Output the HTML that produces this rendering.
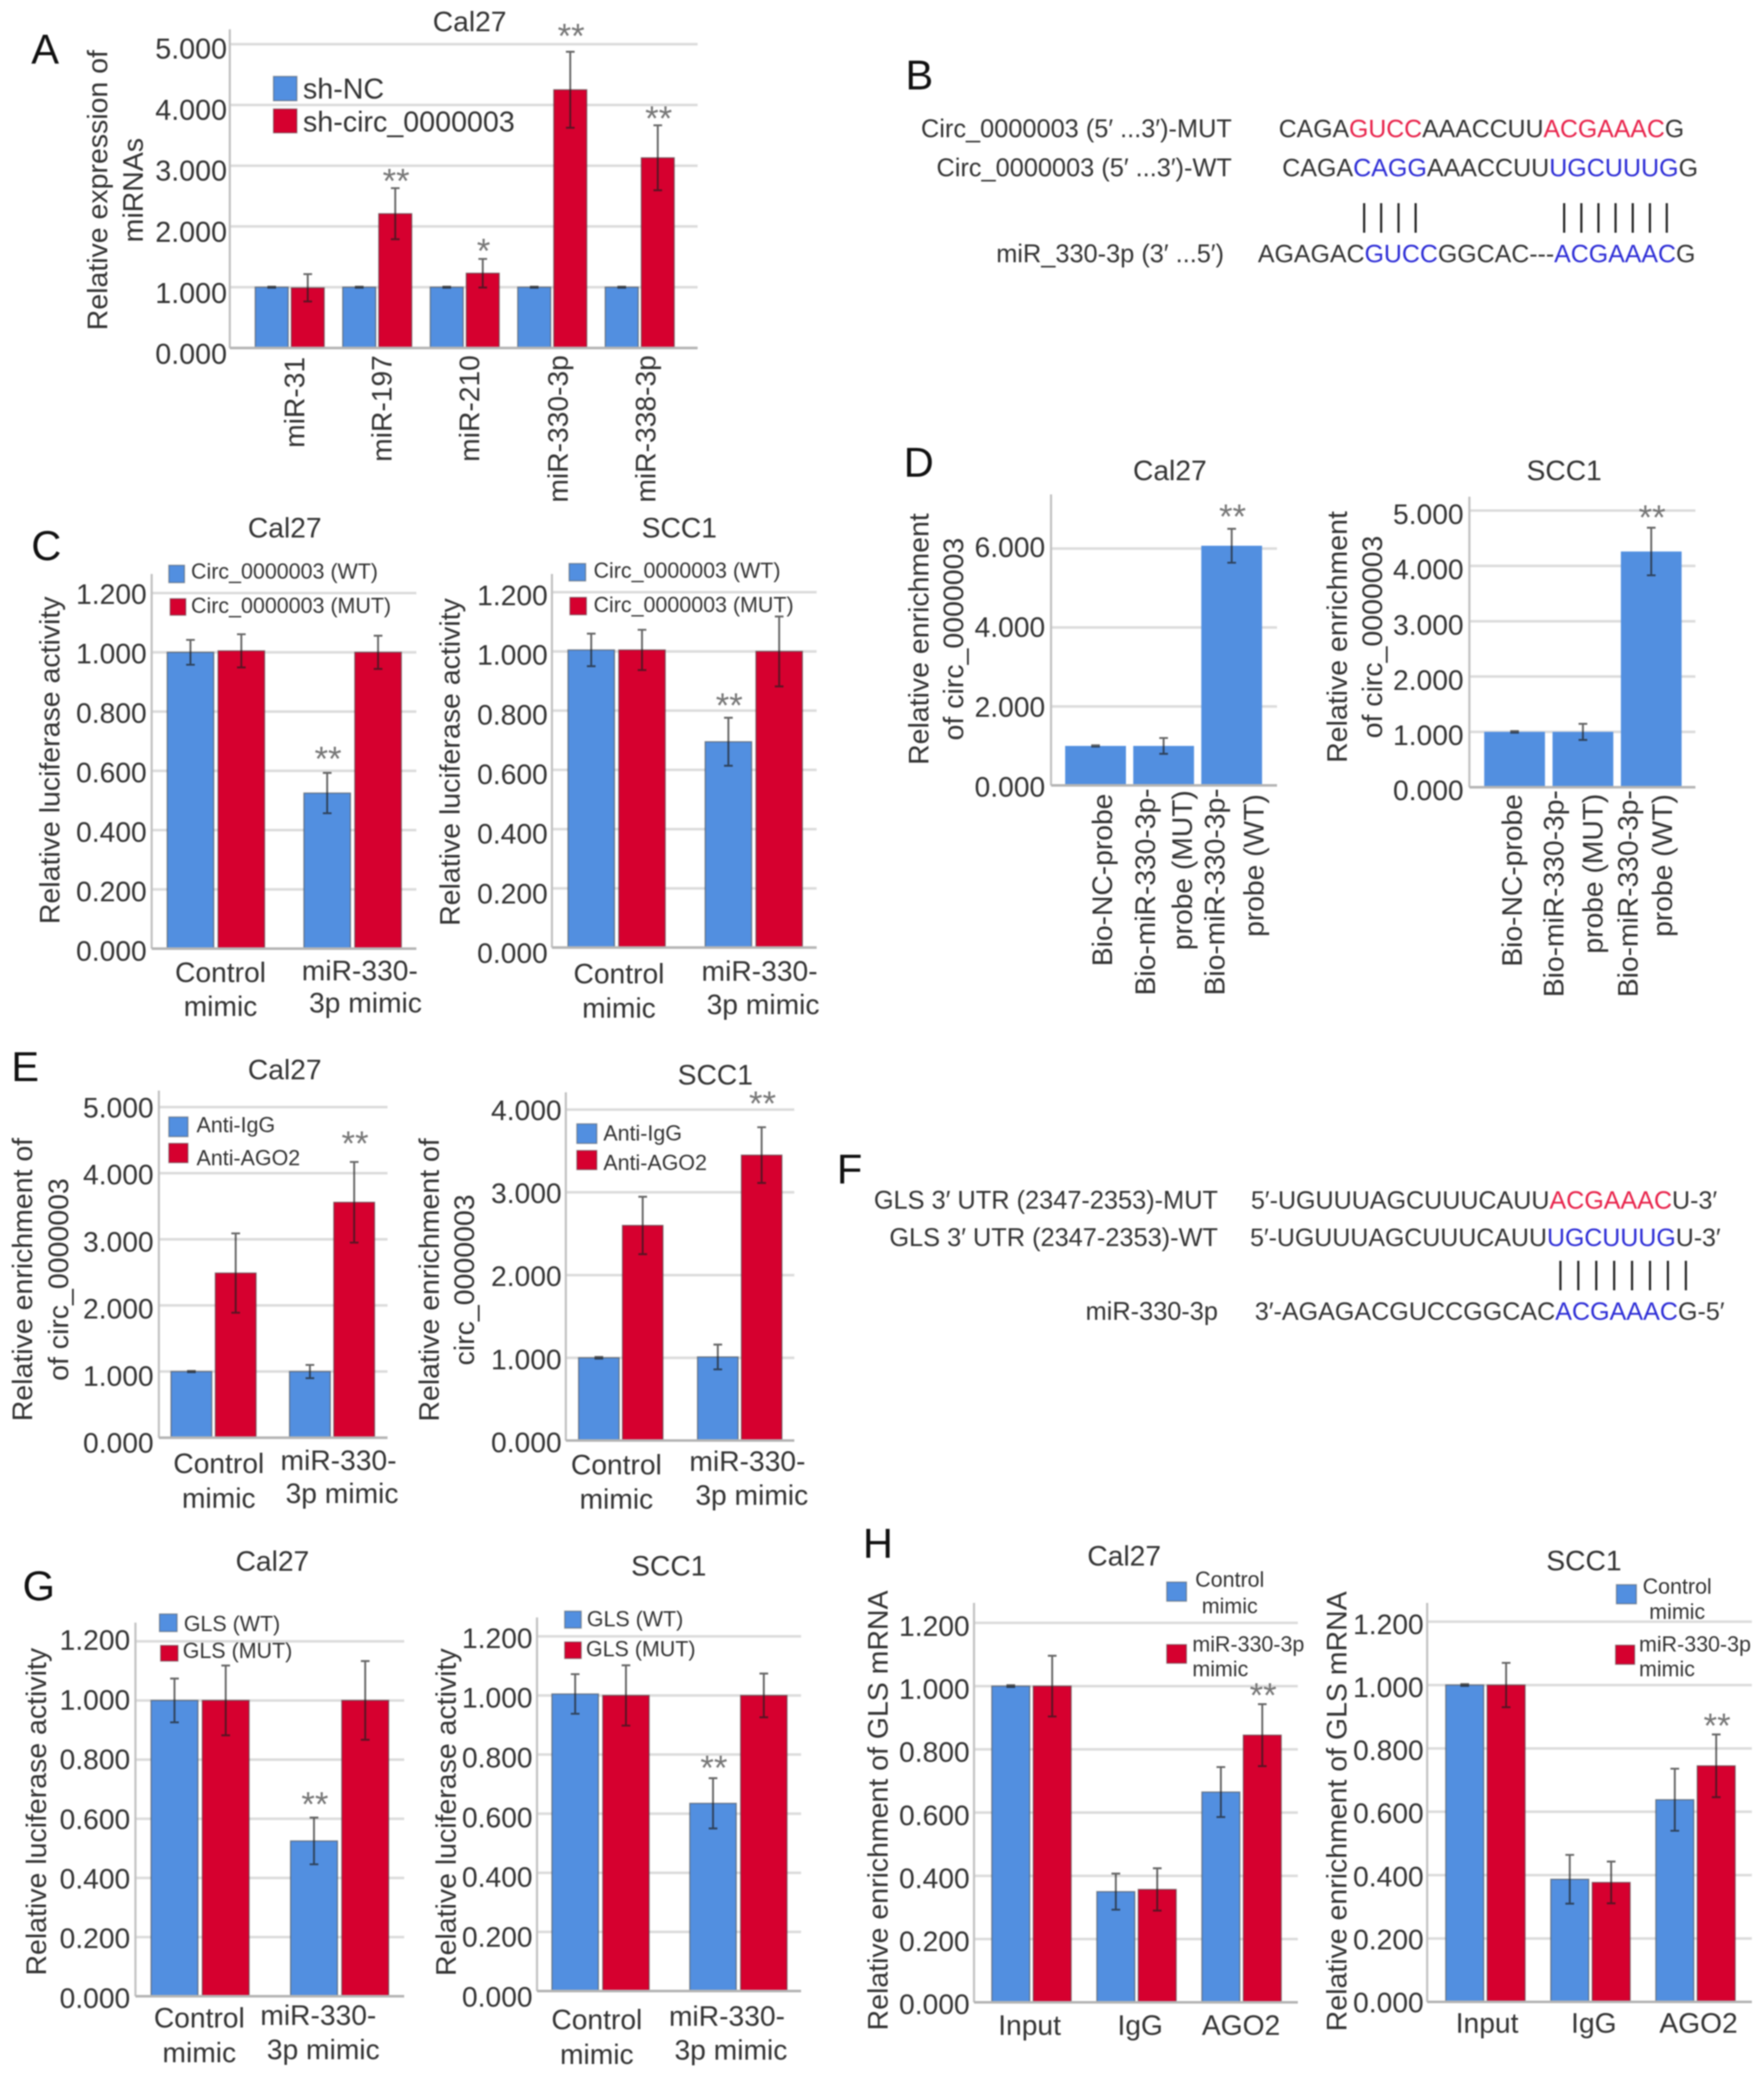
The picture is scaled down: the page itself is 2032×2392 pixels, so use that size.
<!DOCTYPE html>
<html lang="en">
<head>
<meta charset="utf-8">
<title>circ_0000003 miR-330-3p GLS figure</title>
<style>
html,body{margin:0;padding:0;background:#fff;width:2032px;height:2392px;overflow:hidden}
svg{display:block;filter:blur(0.7px)}
text{font-family:"Liberation Sans",Arial,sans-serif;fill:#333}
.letter{font-size:48px;fill:#111}
.seq{font-size:28.5px;dominant-baseline:central}
.seqlabel{font-size:29.2px;dominant-baseline:central}
.red{fill:#e8224a}
.blue{fill:#2c2cd6}
.pipe{stroke:#222;stroke-width:2.5}
</style>
</head>
<body>
<svg id="figure" xmlns="http://www.w3.org/2000/svg" width="2032" height="2392" viewBox="0 0 2032 2392">
<rect x="0" y="0" width="2032" height="2392" fill="#fff"/>

<text class="letter" x="36" y="73">A</text>
<text class="letter" x="1043" y="103">B</text>
<text class="letter" x="36" y="645">C</text>
<text class="letter" x="1041" y="549">D</text>
<text class="letter" x="13" y="1245">E</text>
<text class="letter" x="964" y="1363">F</text>
<text class="letter" x="26" y="1843">G</text>
<text class="letter" x="994" y="1794">H</text>

<g>
<text class="seqlabel" x="1419" y="149" text-anchor="end">Circ_0000003 (5′ ...3′)-MUT</text>
<text class="seq" x="1473" y="149" textLength="467" lengthAdjust="spacingAndGlyphs">CAGA<tspan class="red">GUCC</tspan>AAACCUU<tspan class="red">ACGAAAC</tspan>G</text>
<text class="seqlabel" x="1419" y="194" text-anchor="end">Circ_0000003 (5′ ...3′)-WT</text>
<text class="seq" x="1477" y="194" textLength="479" lengthAdjust="spacingAndGlyphs">CAGA<tspan class="blue">CAGG</tspan>AAACCUU<tspan class="blue">UGCUUUG</tspan>G</text>
<g>
<line class="pipe" x1="1571.4" x2="1571.4" y1="234" y2="268"/>
<line class="pipe" x1="1591" x2="1591" y1="234" y2="268"/>
<line class="pipe" x1="1611" x2="1611" y1="234" y2="268"/>
<line class="pipe" x1="1630.7" x2="1630.7" y1="234" y2="268"/>
<line class="pipe" x1="1801.8" x2="1801.8" y1="234" y2="268"/>
<line class="pipe" x1="1821.6" x2="1821.6" y1="234" y2="268"/>
<line class="pipe" x1="1841.3" x2="1841.3" y1="234" y2="268"/>
<line class="pipe" x1="1861" x2="1861" y1="234" y2="268"/>
<line class="pipe" x1="1880.8" x2="1880.8" y1="234" y2="268"/>
<line class="pipe" x1="1900.6" x2="1900.6" y1="234" y2="268"/>
<line class="pipe" x1="1920" x2="1920" y1="234" y2="268"/>
</g>
<text class="seqlabel" x="1410" y="293" text-anchor="end">miR_330-3p (3′ ...5′)</text>
<text class="seq" x="1449" y="293" textLength="504" lengthAdjust="spacingAndGlyphs">AGAGAC<tspan class="blue">GUCC</tspan>GGCAC---<tspan class="blue">ACGAAAC</tspan>G</text>
</g>

<g>
<text class="seqlabel" x="1403" y="1383" text-anchor="end">GLS 3′ UTR (2347-2353)-MUT</text>
<text class="seq" x="1441" y="1383" textLength="537" lengthAdjust="spacingAndGlyphs">5′-UGUUUAGCUUUCAUU<tspan class="red">ACGAAAC</tspan>U-3′</text>
<text class="seqlabel" x="1403" y="1426" text-anchor="end">GLS 3′ UTR (2347-2353)-WT</text>
<text class="seq" x="1440" y="1426" textLength="542" lengthAdjust="spacingAndGlyphs">5′-UGUUUAGCUUUCAUU<tspan class="blue">UGCUUUG</tspan>U-3′</text>
<g>
<line class="pipe" x1="1797.5" x2="1797.5" y1="1452" y2="1486"/>
<line class="pipe" x1="1818.1" x2="1818.1" y1="1452" y2="1486"/>
<line class="pipe" x1="1838.8" x2="1838.8" y1="1452" y2="1486"/>
<line class="pipe" x1="1859.4" x2="1859.4" y1="1452" y2="1486"/>
<line class="pipe" x1="1880" x2="1880" y1="1452" y2="1486"/>
<line class="pipe" x1="1900.7" x2="1900.7" y1="1452" y2="1486"/>
<line class="pipe" x1="1921.3" x2="1921.3" y1="1452" y2="1486"/>
<line class="pipe" x1="1942" x2="1942" y1="1452" y2="1486"/>
</g>
<text class="seqlabel" x="1403" y="1511" text-anchor="end">miR-330-3p</text>
<text class="seq" x="1445.5" y="1511" textLength="541" lengthAdjust="spacingAndGlyphs">3′-AGAGACGUCCGGCAC<tspan class="blue">ACGAAAC</tspan>G-5′</text>
</g>
</svg>

<script>
/* ---------- data ---------- */
const ticksFive = ['0.000','1.000','2.000','3.000','4.000','5.000'];
const ticksFour = ['0.000','1.000','2.000','3.000','4.000'];
const ticksSixByTwo = ['0.000','2.000','4.000','6.000'];
const ticksRatio = ['0.000','0.200','0.400','0.600','0.800','1.000','1.200'];
const mimicCategories = [['Control','mimic'],['miR-330-','3p mimic']];
const probeCategories = [['Bio-NC-probe'],['Bio-miR-330-3p-','probe (MUT)'],['Bio-miR-330-3p-','probe (WT)']];
const ripCategories = [['Input'],['IgG'],['AGO2']];

/* Panel A */
const aCategories = [['miR-31'],['miR-197'],['miR-210'],['miR-330-3p'],['miR-338-3p']];
const aSeriesNames = [['sh-NC'],['sh-circ_0000003']];
const aBlue = [1.0,1.0,1.0,1.0,1.0];
const aRed = [0.99,2.21,1.23,4.25,3.13];
const aBlueErr = [0.01,0.01,0.01,0.01,0.01];
const aRedErr = [0.225,0.42,0.235,0.625,0.535];
const aBlueStars = ['','','','',''];
const aRedStars = ['','**','*','**','**'];

/* Panel C */
const cSeriesNames = [['Circ_0000003 (WT)'],['Circ_0000003 (MUT)']];
const c1Blue = [1.0,0.525];
const c1Red = [1.005,1.0];
const c1BlueErr = [0.042,0.068];
const c1RedErr = [0.056,0.056];
const c1BlueStars = ['','**'];
const c1RedStars = ['',''];
const c2Blue = [1.005,0.695];
const c2Red = [1.005,1.0];
const c2BlueErr = [0.055,0.081];
const c2RedErr = [0.068,0.118];
const c2BlueStars = ['','**'];
const c2RedStars = ['',''];

/* Panel D */
const dSeriesNames = [['Relative enrichment']];
const d1Blue = [1.0,1.0,6.07];
const d1BlueErr = [0.015,0.2,0.43];
const d1Stars = ['','','**'];
const d2Blue = [1.0,1.0,4.26];
const d2BlueErr = [0.015,0.145,0.43];
const d2Stars = ['','','**'];

/* Panel E */
const eSeriesNames = [['Anti-IgG'],['Anti-AGO2']];
const e1Blue = [1.0,1.0];
const e1Red = [2.49,3.56];
const e1BlueErr = [0.01,0.1];
const e1RedErr = [0.6,0.61];
const e1BlueStars = ['',''];
const e1RedStars = ['','**'];
const e2Blue = [1.0,1.01];
const e2Red = [2.6,3.45];
const e2BlueErr = [0.01,0.15];
const e2RedErr = [0.347,0.337];
const e2BlueStars = ['',''];
const e2RedStars = ['','**'];

/* Panel G */
const gSeriesNames = [['GLS (WT)'],['GLS (MUT)']];
const g1Blue = [1.0,0.525];
const g1Red = [1.0,1.0];
const g1BlueErr = [0.074,0.079];
const g1RedErr = [0.118,0.133];
const g1BlueStars = ['','**'];
const g1RedStars = ['',''];
const g2Blue = [1.005,0.635];
const g2Red = [1.0,1.0];
const g2BlueErr = [0.067,0.085];
const g2RedErr = [0.102,0.074];
const g2BlueStars = ['','**'];
const g2RedStars = ['',''];

/* Panel H */
const hSeriesNames = [['Control','mimic'],['miR-330-3p','mimic']];
const h1Blue = [1.0,0.35,0.665];
const h1Red = [1.0,0.357,0.845];
const h1BlueErr = [0.003,0.057,0.079];
const h1RedErr = [0.096,0.067,0.098];
const h1BlueStars = ['','',''];
const h1RedStars = ['','','**'];
const h2Blue = [1.0,0.387,0.638];
const h2Red = [1.0,0.377,0.745];
const h2BlueErr = [0.003,0.077,0.098];
const h2RedErr = [0.07,0.066,0.099];
const h2BlueStars = ['','',''];
const h2RedStars = ['','','**'];

/* ---------- drawing ---------- */
const SVGNS = 'http://www.w3.org/2000/svg';
const BLUE = '#528fe0';
const RED = '#d6002f';
const figure = document.getElementById('figure');

function mk(tag, attrs, parent, content) {
  const node = document.createElementNS(SVGNS, tag);
  for (const k in attrs) node.setAttribute(k, attrs[k]);
  if (content !== undefined) node.textContent = content;
  parent.appendChild(node);
  return node;
}

function renderChart(L, categories, ticks, seriesNames, series) {
  const chart = mk('g', {}, figure);
  
  

  const maxTick = parseFloat(ticks[ticks.length - 1]);
  const yScale = function (v) { return L.base - v * (L.base - L.top) / maxTick; };
  const tickFont = L.tickFont || 32.5;

  ticks.forEach(function (label, i) {
    const v = parseFloat(label);
    const py = yScale(v);
    if (i > 0) {
      const grid = mk('line', {x1: L.x0, x2: L.x1, y1: py, y2: py, stroke: '#dcdcdc', 'stroke-width': 3}, chart);
      
      
    }
    const frac = i / (ticks.length - 1);
    const off = L.labelOff[0] + (L.labelOff[1] - L.labelOff[0]) * frac;
    const tick = mk('text', {x: L.tickRight, y: py + off, 'text-anchor': 'end', 'dominant-baseline': 'central', 'font-size': tickFont}, chart, label);
    
    
  });

  const yAxis = mk('line', {x1: L.x0, x2: L.x0, y1: L.axisTop, y2: L.base, stroke: '#c2c2c2', 'stroke-width': 2.5}, chart);
  
  

  series.forEach(function (s, si) {
    s.values.forEach(function (v, gi) {
      const bx = L.start + gi * L.pitch + si * (L.barW + L.gap);
      const top = yScale(v);
      const barAttrs = {x: bx, y: top, width: L.barW, height: L.base - top, fill: s.color};
      if (!L.plain) {
        barAttrs.stroke = 'rgba(70,70,70,0.55)';
        barAttrs['stroke-width'] = 1.5;
      }
      const bar = mk('rect', barAttrs, chart);
      
      
    });
  });

  const baseLine = mk('line', {x1: L.x0, x2: L.x1, y1: L.base, y2: L.base, stroke: '#b4b4b4', 'stroke-width': 3}, chart);
  
  

  series.forEach(function (s, si) {
    s.values.forEach(function (v, gi) {
      const cx = L.start + gi * L.pitch + si * (L.barW + L.gap) + L.barW / 2;
      const yHi = yScale(v + s.errors[gi]);
      const yLo = yScale(v - s.errors[gi]);
      const eb = mk('path', {
        d: 'M' + (cx - 5) + ' ' + yHi + 'H' + (cx + 5) + 'M' + cx + ' ' + yHi + 'V' + yLo + 'M' + (cx - 5) + ' ' + yLo + 'H' + (cx + 5),
        fill: 'none', stroke: 'rgba(30,30,30,0.68)', 'stroke-width': 2.2
      }, chart);
      
      
      if (s.stars[gi]) {
        const gap = Array.isArray(L.starGap) ? L.starGap[gi] : L.starGap;
        const star = mk('text', {x: cx + 1, y: yHi - gap + 19.5, 'text-anchor': 'middle', 'font-size': 40, style: 'fill:#777'}, chart, s.stars[gi]);
        
        
      }
    });
  });

  const title = mk('text', {x: L.title[0], y: L.title[1], 'text-anchor': 'middle', 'dominant-baseline': 'central', 'font-size': 32.5}, chart, L.titleText);
  
  

  L.yLabel.forEach(function (line) {
    const t = mk('text', {transform: 'translate(' + line[1] + ' ' + L.yLabelCy + ') rotate(-90)', 'text-anchor': 'middle', 'dominant-baseline': 'central', 'font-size': 32.8}, chart, line[0]);
    
    
  });

  categories.forEach(function (lines, ci) {
    lines.forEach(function (txt, li) {
      const pos = L.xLabelAt[ci][li];
      const attrs = {'dominant-baseline': 'central', 'font-size': 32.5};
      if (L.rotated) {
        attrs.transform = 'translate(' + pos[0] + ' ' + pos[1] + ') rotate(-90)';
        attrs['text-anchor'] = 'end';
      } else {
        attrs.x = pos[0];
        attrs.y = pos[1];
        attrs['text-anchor'] = 'middle';
      }
      const t = mk('text', attrs, chart, txt);
      
      
    });
  });

  if (L.legend) {
    L.legend.forEach(function (entry, i) {
      const g = mk('g', {}, chart);
      
      
      const sw = mk('rect', {x: entry.box[0], y: entry.box[1], width: entry.box[2], height: entry.box[3], fill: series[i].color, stroke: 'rgba(70,70,70,0.45)', 'stroke-width': 1.5}, g);
      
      
      seriesNames[i].forEach(function (txt, li) {
        const p = entry.text[li];
        const t = mk('text', {x: p[0], y: p[1], 'text-anchor': p[2] || 'start', 'dominant-baseline': 'central', 'font-size': L.legendFont || 24.7}, g, txt);
        
        
      });
    });
  }
}

/* Panel A */
renderChart({
  name: 'chart-a-cal27', titleText: 'Cal27', title: [541, 25],
  x0: 264.7, x1: 803.6, base: 400.7, top: 50.9, axisTop: 33.7,
  start: 294, barW: 38, gap: 3.5, pitch: 100.8,
  tickRight: 261.5, tickFont: 33, labelOff: [7, 5], starGap: [0, 14, 15, 24, 14],
  yLabel: [['Relative expression of', 112], ['miRNAs', 153]], yLabelCy: 219,
  rotated: true,
  xLabelAt: [[[339.5, 411]], [[440, 409]], [[541, 409]], [[643, 409]], [[744, 409]]],
  legendFont: 33,
  legend: [
    {box: [315, 88, 27, 28], text: [[349, 102]]},
    {box: [315, 125.5, 27, 27.5], text: [[349, 140]]}
  ]
}, aCategories, ticksFive, aSeriesNames, [
  {color: BLUE, values: aBlue, errors: aBlueErr, stars: aBlueStars},
  {color: RED, values: aRed, errors: aRedErr, stars: aRedStars}
]);

/* Panel C */
renderChart({
  name: 'chart-c-cal27', titleText: 'Cal27', title: [328, 608],
  x0: 174.7, x1: 479.6, base: 1092.5, top: 683, axisTop: 661,
  start: 192.6, barW: 53.6, gap: 5, pitch: 157.5,
  tickRight: 169, labelOff: [3, 1.6], starGap: 22,
  yLabel: [['Relative luciferase activity', 57]], yLabelCy: 875.6,
  xLabelAt: [[[254, 1120], [254, 1159]], [[414.5, 1118], [421, 1155]]],
  legend: [
    {box: [194.5, 651, 18, 20], text: [[220, 659]]},
    {box: [196, 689.5, 18, 19], text: [[220, 698.6]]}
  ]
}, mimicCategories, ticksRatio, cSeriesNames, [
  {color: BLUE, values: c1Blue, errors: c1BlueErr, stars: c1BlueStars},
  {color: RED, values: c1Red, errors: c1RedErr, stars: c1RedStars}
]);

renderChart({
  name: 'chart-c-scc1', titleText: 'SCC1', title: [782.5, 608],
  x0: 635.8, x1: 940.7, base: 1091.3, top: 682, axisTop: 661,
  start: 654.3, barW: 53.5, gap: 5, pitch: 158,
  tickRight: 631, labelOff: [6.7, 4], starGap: 20,
  yLabel: [['Relative luciferase activity', 518]], yLabelCy: 877.6,
  xLabelAt: [[[713, 1121.7], [713, 1161]], [[875, 1118.5], [879, 1157]]],
  legend: [
    {box: [655.6, 649, 19, 20], text: [[683.7, 658]]},
    {box: [656.5, 688, 19, 20], text: [[683.7, 697.4]]}
  ]
}, mimicCategories, ticksRatio, cSeriesNames, [
  {color: BLUE, values: c2Blue, errors: c2BlueErr, stars: c2BlueStars},
  {color: RED, values: c2Red, errors: c2RedErr, stars: c2RedStars}
]);

/* Panel D */
renderChart({
  name: 'chart-d-cal27', titleText: 'Cal27', title: [1347.6, 542], plain: true,
  x0: 1210.7, x1: 1471, base: 904.5, top: 631.7, axisTop: 569.4,
  start: 1227, barW: 70, gap: 0, pitch: 78.4,
  tickRight: 1204, labelOff: [2, -1], starGap: 20,
  yLabel: [['Relative enrichment', 1058], ['of circ_0000003', 1098]], yLabelCy: 736,
  rotated: true,
  xLabelAt: [[[1270, 914]], [[1319.3, 908], [1362, 910]], [[1399.6, 908], [1444.4, 914.6]]]
}, probeCategories, ticksSixByTwo, dSeriesNames, [
  {color: BLUE, values: d1Blue, errors: d1BlueErr, stars: d1Stars}
]);

renderChart({
  name: 'chart-d-scc1', titleText: 'SCC1', title: [1801.8, 542], plain: true,
  x0: 1692.6, x1: 1953, base: 906.6, top: 588, axisTop: 572,
  start: 1709.7, barW: 70, gap: 0, pitch: 78.7,
  tickRight: 1686, labelOff: [4, 4.6], starGap: 18,
  yLabel: [['Relative enrichment', 1540], ['of circ_0000003', 1580.6]], yLabelCy: 733.6,
  rotated: true,
  xLabelAt: [[[1742, 914.6]], [[1790, 910], [1834.8, 914]], [[1875.6, 910], [1915, 914.6]]]
}, probeCategories, ticksFive, dSeriesNames, [
  {color: BLUE, values: d2Blue, errors: d2BlueErr, stars: d2Stars}
]);

/* Panel E */
renderChart({
  name: 'chart-e-cal27', titleText: 'Cal27', title: [328, 1232],
  x0: 183, x1: 446.4, base: 1655.7, top: 1275, axisTop: 1256,
  start: 197, barW: 47, gap: 4, pitch: 136.5,
  tickRight: 177, labelOff: [6.4, 1], starGap: 27,
  yLabel: [['Relative enrichment of', 25.5], ['of circ_0000003', 67]], yLabelCy: 1473.6,
  xLabelAt: [[[252, 1685.7], [252, 1725.7]], [[390, 1682], [394, 1720]]],
  legend: [
    {box: [194.5, 1286.4, 22, 22.6], text: [[226.4, 1296.4]]},
    {box: [194.5, 1316.8, 22, 22.2], text: [[226.4, 1334.6]]}
  ]
}, mimicCategories, ticksFive, eSeriesNames, [
  {color: BLUE, values: e1Blue, errors: e1BlueErr, stars: e1BlueStars},
  {color: RED, values: e1Red, errors: e1RedErr, stars: e1RedStars}
]);

renderChart({
  name: 'chart-e-scc1', titleText: 'SCC1', title: [824, 1238],
  x0: 651.8, x1: 915, base: 1659, top: 1277.9, axisTop: 1258,
  start: 666.5, barW: 46.7, gap: 3.8, pitch: 137,
  tickRight: 647, labelOff: [2.5, 1], starGap: 33,
  yLabel: [['Relative enrichment of', 494], ['circ_0000003', 534.4]], yLabelCy: 1474,
  xLabelAt: [[[710, 1687], [710, 1726.4]], [[861, 1683], [866, 1722]]],
  legend: [
    {box: [664.5, 1294.3, 23, 22.5], text: [[695, 1306]]},
    {box: [664.5, 1325, 23, 22], text: [[695, 1340]]}
  ]
}, mimicCategories, ticksFour, eSeriesNames, [
  {color: BLUE, values: e2Blue, errors: e2BlueErr, stars: e2BlueStars},
  {color: RED, values: e2Red, errors: e2RedErr, stars: e2RedStars}
]);

/* Panel G */
renderChart({
  name: 'chart-g-cal27', titleText: 'Cal27', title: [313.8, 1798],
  x0: 156, x1: 465.6, base: 2299, top: 1890.2, axisTop: 1868.8,
  start: 174, barW: 54, gap: 5, pitch: 160.7,
  tickRight: 150, labelOff: [2.4, -1], starGap: 21,
  yLabel: [['Relative luciferase activity', 41.5]], yLabelCy: 2086.5,
  xLabelAt: [[[229.6, 2324], [229.6, 2363.8]], [[366.7, 2321], [372.4, 2360.6]]],
  legend: [
    {box: [183.7, 1858.8, 20.3, 20.2], text: [[211.7, 1870.8]]},
    {box: [185, 1895, 20, 18], text: [[210.5, 1902]]}
  ]
}, mimicCategories, ticksRatio, gSeriesNames, [
  {color: BLUE, values: g1Blue, errors: g1BlueErr, stars: g1BlueStars},
  {color: RED, values: g1Red, errors: g1RedErr, stars: g1RedStars}
]);

renderChart({
  name: 'chart-g-scc1', titleText: 'SCC1', title: [770.4, 1803.5],
  x0: 618.6, x1: 922.8, base: 2293, top: 1884.5, axisTop: 1862.8,
  start: 635.8, barW: 53.5, gap: 5, pitch: 158.8,
  tickRight: 613.5, labelOff: [6.8, 2.4], starGap: 18,
  yLabel: [['Relative luciferase activity', 513.4]], yLabelCy: 2087,
  xLabelAt: [[[687.5, 2326], [687.5, 2365.8]], [[837.4, 2322], [842, 2361]]],
  legend: [
    {box: [650.5, 1855.5, 19, 19.5], text: [[676, 1865.6]]},
    {box: [650.5, 1891, 19, 19], text: [[675, 1900]]}
  ]
}, mimicCategories, ticksRatio, gSeriesNames, [
  {color: BLUE, values: g2Blue, errors: g2BlueErr, stars: g2BlueStars},
  {color: RED, values: g2Red, errors: g2RedErr, stars: g2RedStars}
]);

/* Panel H */
renderChart({
  name: 'chart-h-cal27', titleText: 'Cal27', title: [1295, 1792],
  x0: 1122, x1: 1495, base: 2306, top: 1869, axisTop: 1846,
  start: 1142.5, barW: 43.7, gap: 4, pitch: 121,
  tickRight: 1117, labelOff: [2.5, 4], starGap: 16,
  yLabel: [['Relative enrichment of GLS mRNA', 1011]], yLabelCy: 2085,
  xLabelAt: [[[1186, 2332.5]], [[1313.4, 2332.5]], [[1429.6, 2332.5]]],
  legend: [
    {box: [1344, 1822, 22.7, 22], text: [[1416.6, 1820, 'middle'], [1416.6, 1850.6, 'middle']]},
    {box: [1344, 1894, 22.7, 21.5], text: [[1373.5, 1894.7], [1373.5, 1923]]}
  ]
}, ripCategories, ticksRatio, hSeriesNames, [
  {color: BLUE, values: h1Blue, errors: h1BlueErr, stars: h1BlueStars},
  {color: RED, values: h1Red, errors: h1RedErr, stars: h1RedStars}
]);

renderChart({
  name: 'chart-h-scc1', titleText: 'SCC1', title: [1824.6, 1797.4],
  x0: 1644, x1: 2018, base: 2305.5, top: 1867.6, axisTop: 1846,
  start: 1665.4, barW: 43.7, gap: 4, pitch: 121,
  tickRight: 1640, labelOff: [1, 3.3], starGap: 16,
  yLabel: [['Relative enrichment of GLS mRNA', 1539.6]], yLabelCy: 2086,
  xLabelAt: [[[1713, 2330]], [[1836, 2330]], [[1956.6, 2330]]],
  legend: [
    {box: [1862, 1825, 23, 22], text: [[1932, 1828, 'middle'], [1932, 1857, 'middle']]},
    {box: [1861, 1894.7, 22, 22], text: [[1888, 1894.7], [1888, 1923]]}
  ]
}, ripCategories, ticksRatio, hSeriesNames, [
  {color: BLUE, values: h2Blue, errors: h2BlueErr, stars: h2BlueStars},
  {color: RED, values: h2Red, errors: h2RedErr, stars: h2RedStars}
]);
</script>
</body>
</html>
